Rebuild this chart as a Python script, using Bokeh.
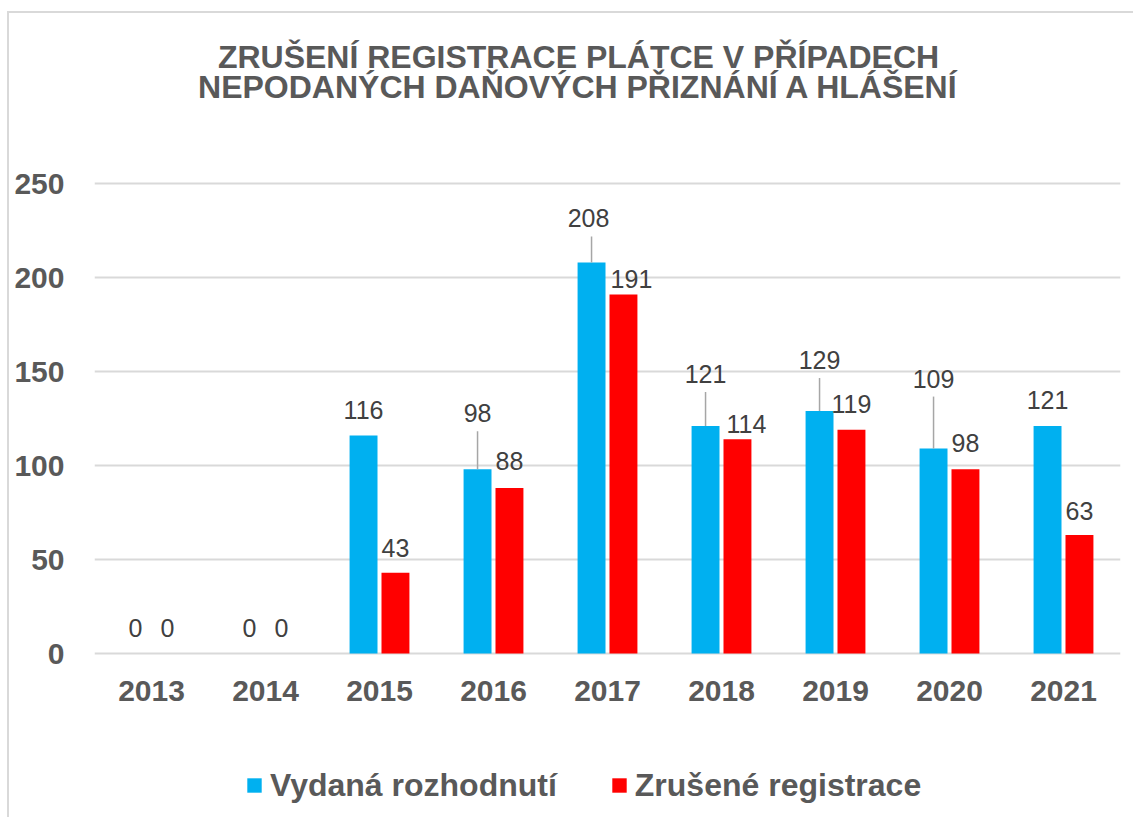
from bokeh.plotting import figure
from bokeh.models import (ColumnDataSource, FactorRange, Range1d, FixedTicker,
                          Legend, LegendItem, Label)
from bokeh.transform import dodge
from bokeh.core.properties import value
from bokeh.embed import file_html
from bokeh.resources import INLINE

# ---------------- data ----------------
years = ["2013", "2014", "2015", "2016", "2017", "2018", "2019", "2020", "2021"]
vydana = [0, 0, 116, 98, 208, 121, 129, 109, 121]
zrusene = [0, 0, 43, 88, 191, 114, 119, 98, 63]
y_ticks = [0, 50, 100, 150, 200, 250]
series_names = ["Vydaná rozhodnutí", "Zrušené registrace"]
title_lines = ["ZRUŠENÍ REGISTRACE PLÁTCE V PŘÍPADECH",
               "NEPODANÝCH DAŇOVÝCH PŘIZNÁNÍ A HLÁŠENÍ"]

# label placement (screen px above bar top, horizontal shift in px)
blue_rise = [26, 26, 25, 56, 44, 52, 51, 70, 26]
blue_shift = [0, 0, 0, 0, -3, 0, 0, 0, 0]
red_rise = [26, 26, 25, 27, 15, 15, 26, 26, 24]
red_shift = [0, 0, 0, 0, 8, 9, 0, 0, 0]

# ---------------- layout constants (page pixels) ----------------
OX, OY = 9, 13                 # canvas origin on page (after border + margin)
W, H = 1135 - OX, 819 - OY
FRAME_L, FRAME_R = 94, 1120    # page x of plotting area
ZERO_Y, TOP_Y = 653, 183       # page y of values 0 and 250
B_LEFT = FRAME_L - OX
B_RIGHT = W - (FRAME_R - OX)
ZERO_PX, TOP_PX = ZERO_Y - OY, TOP_Y - OY
Y_MAX = 250
ppu = (ZERO_PX - TOP_PX) / Y_MAX
y_lo = -(H - ZERO_PX) / ppu
y_hi = ZERO_PX / ppu
OFF = 0.14
BAR_W = 0.245
CAT_PX = (FRAME_R - FRAME_L) / len(years)

BLUE = "#00B0F0"
RED = "#FF0000"
TXT = "#595959"
LBL = "#404040"
GRID = "#D9D9D9"
FONT = "Liberation Sans"

p = figure(x_range=FactorRange(*years), y_range=Range1d(y_lo, y_hi),
           width=W, height=H, output_backend="svg", toolbar_location=None,
           x_axis_location=None,
           min_border_left=B_LEFT, min_border_right=B_RIGHT,
           min_border_top=0, min_border_bottom=0)
p.styles = {"border-left": "2px solid #D9D9D9", "border-top": "2px solid #D9D9D9",
            "margin-left": f"{OX - 2}px", "margin-top": f"{OY - 2}px"}
p.outline_line_color = None
p.background_fill_color = "white"
p.border_fill_color = "white"

def make_src(vals, rise, shift):
    lead_top = [v + (r - 18) / ppu if r > 35 else v for v, r in zip(vals, rise)]
    return ColumnDataSource(dict(
        year=years, v=vals, lbl=[str(v) for v in vals],
        yoff=[-r for r in rise], xoff=shift, ltop=lead_top))

src_b = make_src(vydana, blue_rise, blue_shift)
src_r = make_src(zrusene, red_rise, red_shift)

rb = p.vbar(x=dodge("year", -OFF, range=p.x_range), top="v", width=BAR_W,
            source=src_b, fill_color=BLUE, line_color=None)
rr = p.vbar(x=dodge("year", OFF, range=p.x_range), top="v", width=BAR_W,
            source=src_r, fill_color=RED, line_color=None)

# leader lines
for src, off in ((src_b, -OFF), (src_r, OFF)):
    p.segment(x0=dodge("year", off, range=p.x_range), y0="v",
              x1=dodge("year", off, range=p.x_range), y1="ltop",
              source=src, line_color="#A6A6A6", line_width=1.5)

# data labels
for src, off in ((src_b, -OFF), (src_r, OFF)):
    p.text(x=dodge("year", off, range=p.x_range), y="v", text="lbl",
           x_offset="xoff", y_offset="yoff", source=src,
           text_align="center", text_baseline="middle",
           text_font=value(FONT), text_font_size="25px", text_color=LBL)

# category (year) labels under the baseline
cat_src = ColumnDataSource(dict(year=years, zero=[0] * len(years)))
p.text(x="year", y="zero", text="year", source=cat_src, y_offset=37,
       text_align="center", text_baseline="middle",
       text_font=value(FONT), text_font_size="30px", text_font_style="bold",
       text_color=TXT)

# title
title_x = (578 - FRAME_L) / CAT_PX
for txt, py in zip(title_lines, (56, 86)):
    p.add_layout(Label(x=title_x, y=(ZERO_Y - py) / ppu, text=txt,
                       text_align="center", text_baseline="middle",
                       text_font=FONT, text_font_size="32px",
                       text_font_style="bold", text_color=TXT))

# y axis
p.yaxis.ticker = FixedTicker(ticks=y_ticks)
ax = p.yaxis[0]
ax.axis_line_color = None
ax.major_tick_line_color = None
ax.minor_tick_line_color = None
ax.major_tick_out = 0
ax.major_tick_in = 0
ax.major_label_text_font = FONT
ax.major_label_text_font_size = "30px"
ax.major_label_text_font_style = "bold"
ax.major_label_text_color = TXT
ax.major_label_standoff = 30
p.xgrid.grid_line_color = None
p.ygrid.ticker = FixedTicker(ticks=y_ticks)
p.ygrid.grid_line_color = GRID
p.ygrid.grid_line_width = 2

# legend (text centre at page y ~784)
leg_h = 38
legend = Legend(items=[LegendItem(label=series_names[0], renderers=[rb]),
                       LegendItem(label=series_names[1], renderers=[rr])],
                location=(245 - FRAME_L, (819 - 784.5) - leg_h / 2),
                orientation="horizontal",
                glyph_width=18, glyph_height=18, label_height=18,
                label_standoff=7, spacing=53, padding=0, margin=0,
                label_text_font=FONT, label_text_font_size="32px",
                label_text_font_style="bold", label_text_color=TXT,
                background_fill_alpha=0, border_line_alpha=0)
p.add_layout(legend, "center")

open("out.html", "w").write(file_html(p, INLINE))
